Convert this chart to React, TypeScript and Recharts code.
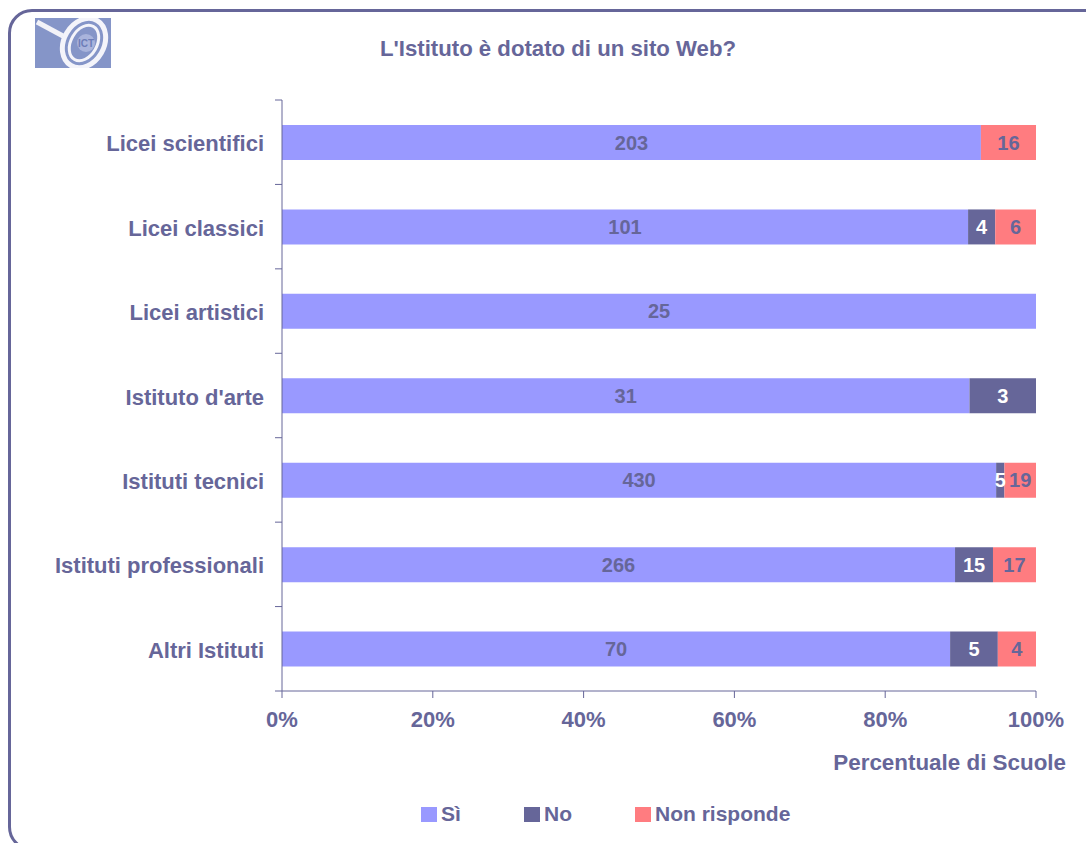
import React from 'react';
import { BarChart, Bar, XAxis, YAxis, LabelList, Legend } from 'recharts';

const categories = [
  'Licei scientifici',
  'Licei classici',
  'Licei artistici',
  "Istituto d'arte",
  'Istituti tecnici',
  'Istituti professionali',
  'Altri Istituti',
];
const si = [203, 101, 25, 31, 430, 266, 70];
const no = [0, 4, 0, 3, 5, 15, 5];
const nonRisponde = [16, 6, 0, 0, 19, 17, 4];
const percentTicks = [0, 0.2, 0.4, 0.6, 0.8, 1];

const data = categories.map((name, i) => ({ name, si: si[i], no: no[i], nr: nonRisponde[i] }));

const FONT = '"Liberation Sans", Arial, sans-serif';
const INK = '#666699';
const COL_SI = '#9999FF';
const COL_NO = '#666699';
const COL_NR = '#FF7C80';

const WIDTH = 1086;
const HEIGHT = 843;
const LEFT = 282;
const TOP = 100;
const BOTTOM = 691;
const BAND = (BOTTOM - TOP) / categories.length;
const LEGEND_H = 24;

const hideZero = (v: any) => (v ? v : '');

// category ticks sit between the bars, so the marks are drawn with the label
function CategoryTick({ y, payload, index }: any) {
  return (
    <g>
      <line x1={LEFT - 7} x2={LEFT} y1={y - BAND / 2} y2={y - BAND / 2} stroke={INK} />
      {index === categories.length - 1 && (
        <line x1={LEFT - 7} x2={LEFT} y1={y + BAND / 2} y2={y + BAND / 2} stroke={INK} />
      )}
      <text x={LEFT - 18} y={y + 9} textAnchor="end" fontFamily={FONT} fontWeight="bold" fontSize={22} fill={INK}>
        {payload.value}
      </text>
    </g>
  );
}

function LegendBox({ payload }: any) {
  const lefts = [421, 524, 635];
  return (
    <div style={{ position: 'relative', height: LEGEND_H }}>
      {(payload || []).map((p: any, i: number) => (
        <div key={p.value}>
          <div style={{ position: 'absolute', left: lefts[i], top: 5, width: 16, height: 15, background: p.color }} />
          <div
            style={{
              position: 'absolute',
              left: lefts[i] + 20,
              top: 0,
              fontFamily: FONT,
              fontWeight: 'bold',
              fontSize: 21,
              lineHeight: '24px',
              color: INK,
              whiteSpace: 'nowrap',
            }}
          >
            {p.value}
          </div>
        </div>
      ))}
    </div>
  );
}

function Logo() {
  return (
    <svg width={76} height={50} style={{ position: 'absolute', left: 35, top: 18 }}>
      <rect width={76} height={50} fill="#8595C8" />
      <line x1={2} y1={4} x2={28} y2={18} stroke="#F2F2F8" strokeWidth={5} />
      <ellipse cx={49} cy={25} rx={20} ry={26} transform="rotate(30 49 25)" fill="none" stroke="#F4F4FA" strokeWidth={5} />
      <ellipse cx={49} cy={25} rx={13} ry={19} transform="rotate(30 49 25)" fill="none" stroke="#F4F4FA" strokeWidth={3} />
      <circle cx={51} cy={25} r={9} fill="#A9B4DC" />
      <text x={51} y={29} textAnchor="middle" fontFamily={FONT} fontWeight="bold" fontSize={10} fill="#6D7DB8">
        ICT
      </text>
    </svg>
  );
}

export default function App() {
  return (
    <div style={{ position: 'absolute', left: 0, top: 0, width: WIDTH, height: HEIGHT, overflow: 'hidden', background: '#fff' }}>
      <div
        style={{
          position: 'absolute',
          left: 8,
          top: 9,
          width: 1200,
          height: 836,
          border: `3px solid ${INK}`,
          borderRadius: 24,
        }}
      />
      <Logo />
      <div style={{ position: 'absolute', left: 0, top: 0 }}>
        <BarChart
          width={WIDTH}
          height={HEIGHT}
          data={data}
          layout="vertical"
          stackOffset="expand"
          barSize={35}
          margin={{ top: TOP, right: WIDTH - 1036, bottom: 0, left: 0 }}
        >
          <XAxis
            type="number"
            domain={[0, 1]}
            ticks={percentTicks}
            tickFormatter={(v: number) => `${Math.round(v * 100)}%`}
            tick={{ fontFamily: FONT, fontWeight: 'bold', fontSize: 22, fill: INK }}
            tickSize={7}
            tickMargin={13}
            stroke={INK}
            height={HEIGHT - BOTTOM - LEGEND_H}
            interval={0}
          />
          <YAxis
            type="category"
            dataKey="name"
            width={LEFT}
            tick={<CategoryTick />}
            tickLine={false}
            stroke={INK}
            interval={0}
          />
          <Bar dataKey="si" name="Sì" stackId="a" fill={COL_SI} isAnimationActive={false}>
            <LabelList dataKey="si" position="center" formatter={hideZero} fontFamily={FONT} fontWeight="bold" fontSize={20} fill={INK} />
          </Bar>
          <Bar dataKey="no" name="No" stackId="a" fill={COL_NO} isAnimationActive={false}>
            <LabelList dataKey="no" position="center" formatter={hideZero} fontFamily={FONT} fontWeight="bold" fontSize={20} fill="#FFFFFF" />
          </Bar>
          <Bar dataKey="nr" name="Non risponde" stackId="a" fill={COL_NR} isAnimationActive={false}>
            <LabelList dataKey="nr" position="center" formatter={hideZero} fontFamily={FONT} fontWeight="bold" fontSize={20} fill={INK} />
          </Bar>
          <Legend
            layout="horizontal"
            verticalAlign="bottom"
            itemSorter={null}
            content={<LegendBox />}
            wrapperStyle={{ left: 0, width: WIDTH, top: 802, bottom: 'auto' }}
          />
          <text x={558} y={56} textAnchor="middle" fontFamily={FONT} fontWeight="bold" fontSize={22.2} fill={INK}>
            L'Istituto è dotato di un sito Web?
          </text>
          <text x={1066} y={770} textAnchor="end" fontFamily={FONT} fontWeight="bold" fontSize={22.4} fill={INK}>
            Percentuale di Scuole
          </text>
        </BarChart>
      </div>
    </div>
  );
}
